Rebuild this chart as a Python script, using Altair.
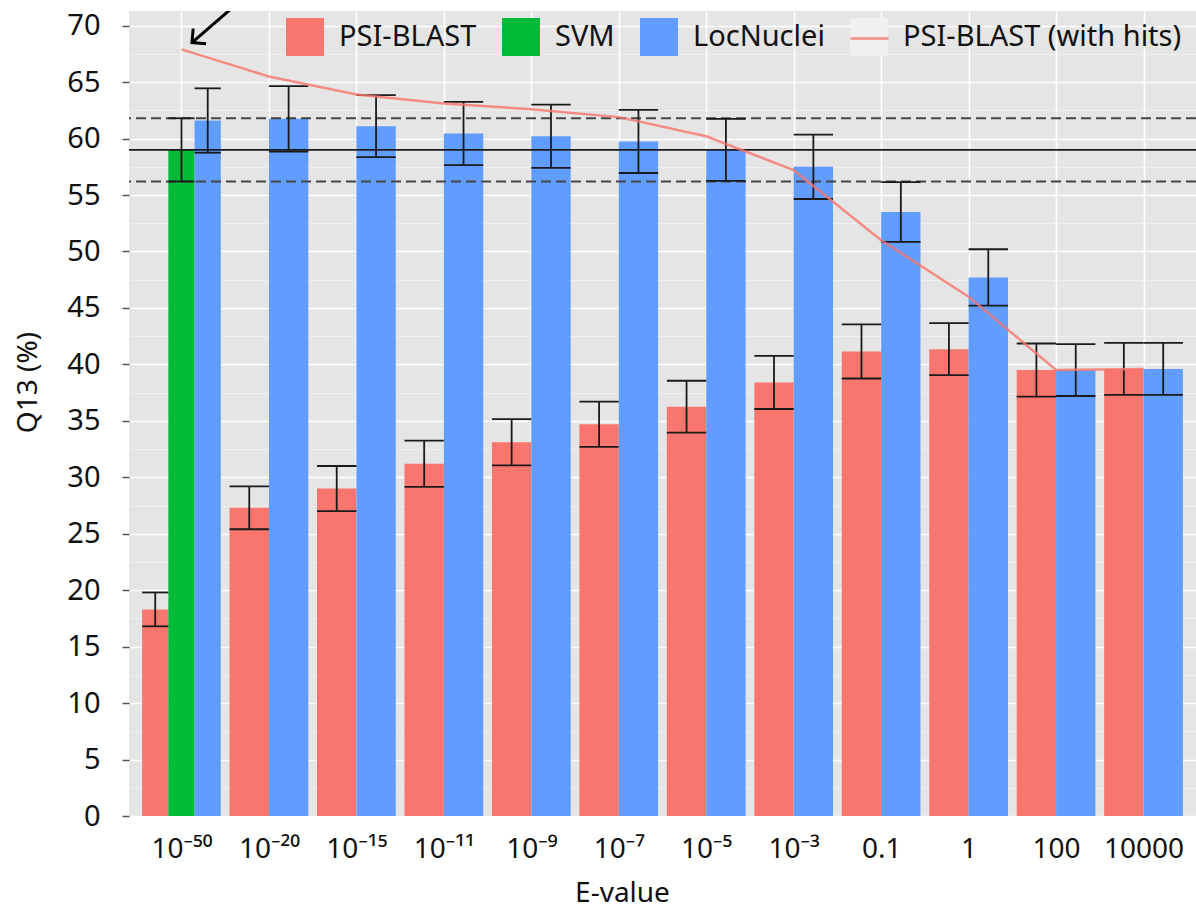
import json
import altair as alt
import pandas as pd

# ---------------- data ----------------
evalues = ["10⁻⁵⁰", "10⁻²⁰", "10⁻¹⁵", "10⁻¹¹", "10⁻⁹", "10⁻⁷", "10⁻⁵", "10⁻³",
           "0.1", "1", "100", "10000"]
psi_blast = [18.3, 27.3, 29.0, 31.2, 33.1, 34.7, 36.25, 38.4, 41.15, 41.35, 39.5, 39.6]
psi_blast_err = [1.5, 1.9, 2.0, 2.05, 2.05, 2.0, 2.3, 2.35, 2.4, 2.3, 2.35, 2.3]
locnuclei = [61.6, 61.75, 61.1, 60.45, 60.2, 59.75, 59.0, 57.5, 53.5, 47.7, 39.5, 39.6]
locnuclei_err = [2.85, 2.9, 2.75, 2.8, 2.8, 2.8, 2.75, 2.85, 2.65, 2.5, 2.3, 2.3]
svm = [59.0]          # only at the first E-value
svm_err = [2.8]
psi_hits = [67.9, 65.5, 63.9, 63.1, 62.6, 61.9, 60.2, 57.2, 51.0, 46.0, 39.5, 39.6]

series_names = ["PSI-BLAST", "SVM", "LocNuclei"]
hits_name = "PSI-BLAST (with hits)"
colors = ["#F8766D", "#00BA38", "#619CFF"]

FONT = "Noto Sans"

# ---------------- tables ----------------
rows = []
for g in range(len(evalues)):
    entries = [("PSI-BLAST", psi_blast[g], psi_blast_err[g])]
    if g < len(svm):
        entries.append(("SVM", svm[g], svm_err[g]))
    entries.append(("LocNuclei", locnuclei[g], locnuclei_err[g]))
    w = 0.9 / len(entries)
    for i, (s, v, e) in enumerate(entries):
        x0 = g - 0.45 + i * w
        rows.append(dict(g=g, series=s, value=v, err=e, x0=x0, x1=x0 + w,
                         xc=x0 + w / 2, lo=v - e, hi=v + e))
bars_df = pd.DataFrame(rows)

hits_df = pd.DataFrame({"g": list(range(len(evalues))), "value": psi_hits,
                        "line_series": hits_name})

ref_solid = pd.DataFrame({"y": [svm[0]]})
ref_dash = pd.DataFrame({"y": [svm[0] + svm_err[0], svm[0] - svm_err[0]]})

# arrow pointing at the start of the "with hits" line
tip_x, tip_y = 0.12, psi_hits[0] + 0.6
arrow_df = pd.DataFrame({"x": [tip_x + 0.56, tip_x], "y": [tip_y + 3.75, tip_y], "o": [0, 1]})
tip_df = pd.DataFrame({"x": [tip_x], "y": [tip_y]})

# ---------------- scales / axes ----------------
xscale = alt.Scale(domain=[-0.6, 11.6], nice=False, zero=False)
yscale = alt.Scale(domain=[0, 71.3], nice=False, zero=True)

label_arr = json.dumps(evalues, ensure_ascii=False)
xaxis = alt.Axis(
    title="E-value", values=list(range(len(evalues))),
    labelExpr=f"{label_arr}[datum.value]",
    grid=True, gridColor="#FFFFFF", gridWidth=1.6,
    ticks=True, tickSize=0, domain=False,
    labelFont=FONT, labelFontSize=28, labelColor="#111111",
    labelBaseline="alphabetic", labelPadding=41, labelFlush=False, labelOverlap=False,
    titleFont=FONT, titleFontSize=28, titleFontWeight="normal", titleColor="#111111",
    titleX=493, titleY=85, titleBaseline="alphabetic", titleAlign="center",
)
yaxis = alt.Axis(
    title="Q13 (%)", values=[i * 2.5 for i in range(29)],
    labelExpr="datum.value % 5 === 0 ? datum.label : ''",
    grid=True,
    gridColor={"condition": {"test": "datum.value % 5 === 0", "value": "#FFFFFF"}, "value": "#F2F2F2"},
    gridWidth={"condition": {"test": "datum.value % 5 === 0", "value": 1.6}, "value": 0.8},
    tickColor={"condition": {"test": "datum.value % 5 === 0", "value": "#555555"}, "value": "transparent"},
    tickSize=7, tickWidth=1.5, domain=False,
    labelFont=FONT, labelFontSize=29, labelColor="#111111", labelPadding=22,
    labelOverlap=False, labelFlush=False,
    titleFont=FONT, titleFontSize=28, titleFontWeight="normal", titleColor="#111111",
    titleX=-93, titleY=371, titleBaseline="alphabetic", titleAlign="center", titleAngle=-90,
)


def X(field):
    return alt.X(f"{field}:Q", scale=xscale, axis=xaxis)


def Y(field):
    return alt.Y(f"{field}:Q", scale=yscale, axis=yaxis)


# ---------------- layers ----------------
bars = alt.Chart(bars_df).mark_bar(strokeWidth=0).encode(
    x=X("x0"), x2="x1", y=Y("value"), y2=alt.datum(0),
    fill=alt.Fill(
        "series:N",
        scale=alt.Scale(domain=series_names + [hits_name], range=colors + ["#F0F0F0"]),
        legend=alt.Legend(
            title=None, orient="none", legendX=157, legendY=7, direction="horizontal",
            symbolType="square", symbolSize=1444, symbolStrokeWidth=0, symbolOpacity=1,
            labelFont=FONT, labelFontSize=29, labelColor="#111111", labelOffset=15,
            labelLimit=500, columnPadding=25, padding=0,
        ),
    ),
)

solid = alt.Chart(ref_solid).mark_rule(color="#1a1a1a", strokeWidth=1.6).encode(y=Y("y"))
dashed = alt.Chart(ref_dash).mark_rule(color="#444444", strokeWidth=2, strokeDash=[10, 5]).encode(y=Y("y"))

err_v = alt.Chart(bars_df).mark_rule(color="#1a1a1a", strokeWidth=1.8).encode(
    x=X("xc"), y=Y("lo"), y2="hi")
cap_hi = alt.Chart(bars_df).mark_rule(color="#1a1a1a", strokeWidth=1.8).encode(
    x=X("x0"), x2="x1", y=Y("hi"))
cap_lo = alt.Chart(bars_df).mark_rule(color="#1a1a1a", strokeWidth=1.8).encode(
    x=X("x0"), x2="x1", y=Y("lo"))

hits = alt.Chart(hits_df).mark_line(strokeWidth=2.5, opacity=0.8).encode(
    x=X("g"), y=Y("value"),
    stroke=alt.Stroke(
        "line_series:N",
        scale=alt.Scale(domain=[hits_name], range=["#F8766D"]),
        legend=alt.Legend(
            title=None, orient="none", legendX=720, legendY=7, direction="horizontal",
            symbolType="stroke", symbolSize=1444, symbolStrokeWidth=2.5,
            labelExpr="''", labelFontSize=29, labelOffset=15, padding=0,
        ),
    ),
)

arrow = alt.Chart(arrow_df).mark_line(color="#000000", strokeWidth=3, clip=True).encode(
    x=X("x"), y=Y("y"), order="o:Q")
head = alt.Chart(tip_df).mark_point(
    shape="M-1,-1L0,0L-1,1", filled=False, color="#000000", strokeWidth=3,
    size=400, angle=140, opacity=1,
).encode(x=X("x"), y=Y("y"))

chart = alt.layer(bars, solid, dashed, err_v, cap_hi, cap_lo, hits, arrow, head).resolve_scale(
    fill="independent", stroke="independent"
).properties(
    width=1067, height=805,
    autosize=alt.AutoSizeParams(type="none"),
    padding={"left": 129, "top": 11, "right": 0, "bottom": 93},
    background="#FFFFFF",
).configure_view(fill="#E5E5E5", stroke=None, strokeWidth=0)

chart.save("out.html", embed_options={"renderer": "svg", "actions": False})
